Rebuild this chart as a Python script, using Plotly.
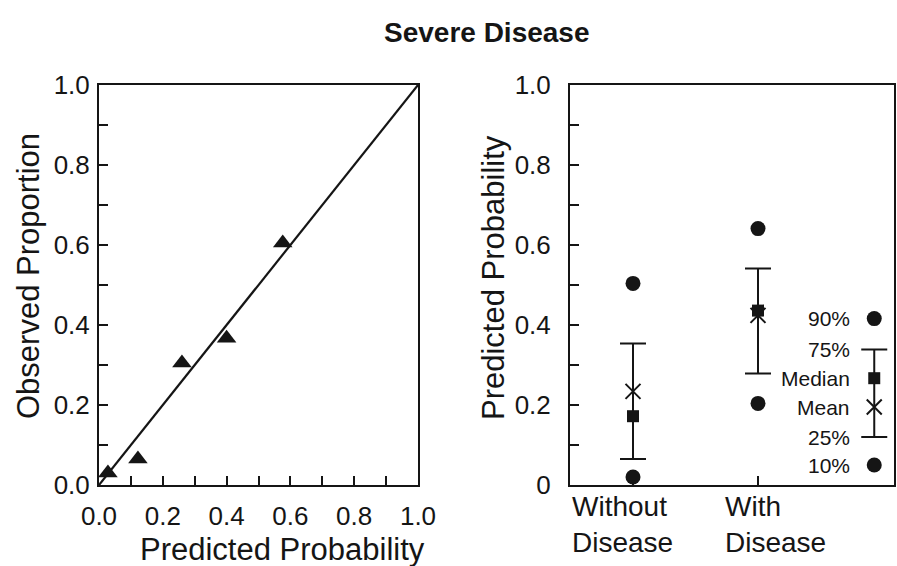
import plotly.graph_objects as go

# ---- data ----
# left panel: calibration
pred_prob = [0.028, 0.122, 0.26, 0.40, 0.576]
obs_prop = [0.03, 0.065, 0.305, 0.367, 0.605]
ident_x = [0.0, 1.0]
ident_y = [0.0, 1.0]

# right panel: distribution of predicted probability
groups = ["Without<br>Disease", "With<br>Disease"]
group_x = [1, 2]
p90 = [0.504, 0.641]
p75 = [0.354, 0.541]
median = [0.172, 0.436]
mean = [0.234, 0.424]
p25 = [0.065, 0.279]
p10 = [0.02, 0.204]

# key drawn inside the right panel
key_x = 2.93
key_labels = ["90%", "75%", "Median", "Mean", "25%", "10%"]
key_y = [0.416, 0.339, 0.267, 0.195, 0.12, 0.05]

left_ticks = [0.0, 0.2, 0.4, 0.6, 0.8, 1.0]
left_ticktext = ["0.0", "0.2", "0.4", "0.6", "0.8", "1.0"]
right_ticktext = ["0", "0.2", "0.4", "0.6", "0.8", "1.0"]

INK = "#151515"
FONT = "Liberation Sans, Arial, Helvetica, sans-serif"

fig = go.Figure()

# left panel
fig.add_trace(go.Scatter(x=ident_x, y=ident_y, mode="lines",
                         line=dict(color=INK, width=2.2), xaxis="x", yaxis="y",
                         showlegend=False, hoverinfo="skip"))
fig.add_trace(go.Scatter(x=pred_prob, y=obs_prop, mode="markers",
                         marker=dict(symbol="triangle-up", size=17, color=INK),
                         xaxis="x", yaxis="y", showlegend=False))

# right panel: 10% and 90% dots
fig.add_trace(go.Scatter(x=group_x + group_x, y=p90 + p10, mode="markers",
                         marker=dict(symbol="circle", size=15, color=INK),
                         xaxis="x2", yaxis="y2", showlegend=False))
# interquartile bars with median squares
fig.add_trace(go.Scatter(x=group_x, y=median, mode="markers",
                         marker=dict(symbol="square", size=12, color=INK),
                         error_y=dict(type="data", symmetric=False,
                                      array=[a - m for a, m in zip(p75, median)],
                                      arrayminus=[m - b for m, b in zip(median, p25)],
                                      color=INK, thickness=2, width=13),
                         xaxis="x2", yaxis="y2", showlegend=False))
# means
fig.add_trace(go.Scatter(x=group_x, y=mean, mode="markers",
                         marker=dict(symbol="x-thin", size=15, color=INK,
                                     line=dict(color=INK, width=2)),
                         xaxis="x2", yaxis="y2", showlegend=False))

# key
fig.add_trace(go.Scatter(x=[key_x, key_x], y=[key_y[0], key_y[5]], mode="markers",
                         marker=dict(symbol="circle", size=15, color=INK),
                         xaxis="x2", yaxis="y2", showlegend=False))
fig.add_trace(go.Scatter(x=[key_x], y=[key_y[2]], mode="markers",
                         marker=dict(symbol="square", size=12, color=INK),
                         error_y=dict(type="data", symmetric=False,
                                      array=[key_y[1] - key_y[2]],
                                      arrayminus=[key_y[2] - key_y[4]],
                                      color=INK, thickness=2, width=13),
                         xaxis="x2", yaxis="y2", showlegend=False))
fig.add_trace(go.Scatter(x=[key_x], y=[key_y[3]], mode="markers",
                         marker=dict(symbol="x-thin", size=15, color=INK,
                                     line=dict(color=INK, width=2)),
                         xaxis="x2", yaxis="y2", showlegend=False))

annotations = []
for lab, yy in zip(key_labels, key_y):
    annotations.append(dict(x=key_x, y=yy, xref="x2", yref="y2", text=lab,
                            showarrow=False, xanchor="right", yanchor="middle",
                            xshift=-22, font=dict(size=21, color=INK, family=FONT)))

cat_shift = [-63, -35]
for g, gx, sh in zip(groups, group_x, cat_shift):
    annotations.append(dict(x=gx, y=0, xref="x2", yref="y2", text=g, align="left",
                            showarrow=False, xanchor="left", yanchor="top",
                            xshift=sh, yshift=-4,
                            font=dict(size=28, color=INK, family=FONT)))

annotations += [
    dict(x=487 / 897, y=1 - 33 / 566, xref="paper", yref="paper",
         xanchor="center", yanchor="middle",
         text="<b>Severe Disease</b>", showarrow=False,
         font=dict(size=28, color=INK, family=FONT)),
    dict(x=28 / 897, y=1 - 276 / 566, xref="paper", yref="paper",
         xanchor="center", yanchor="middle",
         text="Observed Proportion", textangle=-90, showarrow=False,
         font=dict(size=31, color=INK, family=FONT)),
    dict(x=494 / 897, y=1 - 278 / 566, xref="paper", yref="paper",
         xanchor="center", yanchor="middle",
         text="Predicted Probability", textangle=-90, showarrow=False,
         font=dict(size=31, color=INK, family=FONT)),
    dict(x=282 / 897, y=1 - 549 / 566, xref="paper", yref="paper",
         xanchor="center", yanchor="middle",
         text="Predicted Probability", showarrow=False,
         font=dict(size=31, color=INK, family=FONT)),
]

axis_common = dict(showline=True, mirror=True, linecolor=INK, linewidth=2,
                   showgrid=False, zeroline=False, ticks="inside", ticklen=9,
                   tickwidth=2, tickcolor=INK, automargin=False,
                   tickfont=dict(size=26, color=INK, family=FONT))

fig.update_layout(
    width=897, height=566,
    margin=dict(l=0, r=0, t=0, b=0, pad=0, autoexpand=False),
    paper_bgcolor="white", plot_bgcolor="white",
    font=dict(family=FONT, color=INK),
    xaxis=dict(axis_common, domain=[99 / 897, 418 / 897], range=[0, 1],
               tickvals=left_ticks, ticktext=left_ticktext, ticklabelstandoff=7,
               minor=dict(dtick=0.1, ticks="inside", ticklen=9, tickwidth=2,
                          tickcolor=INK), anchor="y"),
    yaxis=dict(axis_common, domain=[81 / 566, 481 / 566], range=[0, 1],
               tickvals=left_ticks, ticktext=left_ticktext, ticklabelstandoff=2,
               minor=dict(dtick=0.1, ticks="inside", ticklen=9, tickwidth=2,
                          tickcolor=INK), anchor="x"),
    xaxis2=dict(axis_common, domain=[570 / 897, 894 / 897], range=[0.496, 3.088],
                tickvals=group_x, ticktext=["", ""], anchor="y2"),
    yaxis2=dict(axis_common, domain=[81 / 566, 481 / 566], range=[0, 1],
                tickvals=left_ticks, ticktext=right_ticktext, ticklabelstandoff=12,
                minor=dict(dtick=0.1, ticks="inside", ticklen=9, tickwidth=2,
                           tickcolor=INK), anchor="x2"),
    annotations=annotations,
)

fig.write_html("out.html")
